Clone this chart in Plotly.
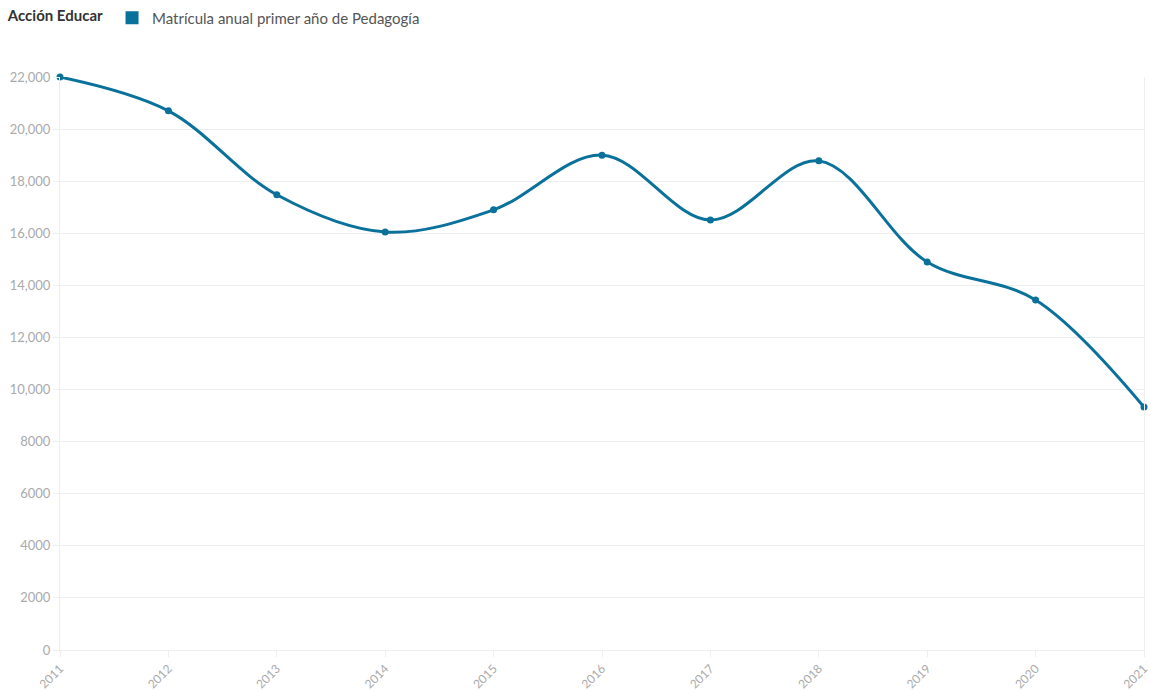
import plotly.graph_objects as go

years = [2011, 2012, 2013, 2014, 2015, 2016, 2017, 2018, 2019, 2020, 2021]
matricula = [22000, 20700, 17480, 16050, 16900, 19000, 16510, 18780, 14900, 13440, 9330]
series_name = "Matrícula anual primer año de Pedagogía"
legend_title = "Acción Educar"
y_ticks = [0, 2000, 4000, 6000, 8000, 10000, 12000, 14000, 16000, 18000, 20000, 22000]
y_labels = ["0", "2000", "4000", "6000", "8000", "10,000", "12,000", "14,000", "16,000", "18,000", "20,000", "22,000"]

color = "#0a719b"
font = "Lato, 'Source Sans Pro', 'Noto Sans', sans-serif"

fig = go.Figure()
fig.add_trace(go.Scatter(
    x=years, y=matricula, mode="lines+markers",
    line=dict(color=color, width=3, shape="spline", smoothing=1.0),
    marker=dict(color=color, size=7),
    cliponaxis=False, showlegend=False, name=series_name,
))
fig.add_trace(go.Scatter(
    x=[None], y=[None], mode="markers",
    marker=dict(color=color, size=13, symbol="square"),
    name=series_name, showlegend=True,
))

fig.update_layout(
    width=1151, height=691,
    margin=dict(l=60, r=7, t=77, b=41, autoexpand=False),
    paper_bgcolor="white", plot_bgcolor="white",
    font=dict(family=font, color="#aaaaaa", size=12),
    showlegend=True,
    legend=dict(
        orientation="h", x=-0.05, xanchor="left", y=1.103, yanchor="middle",
        title=dict(text="<b>" + legend_title + "</b>", font=dict(size=15, color="#333333")),
        font=dict(size=15, color="#555555"),
        itemsizing="trace", itemwidth=30,
    ),
    xaxis=dict(
        tickmode="array", tickvals=years, ticktext=[str(y) for y in years],
        range=[2011, 2021], tickangle=-45, automargin=False,
        ticklabeloverflow="allow",
        showgrid=False, showline=True, linecolor="#eeeeee", linewidth=1,
        ticks="outside", ticklen=6, tickcolor="#eeeeee",
        tickfont=dict(size=12, color="#aaaaaa"), zeroline=False,
    ),
    yaxis=dict(
        tickmode="array", tickvals=y_ticks, ticktext=y_labels,
        range=[0, 22000], showgrid=True, gridcolor="#eeeeee", gridwidth=1,
        showline=True, linecolor="#eeeeee", mirror=True, automargin=False,
        ticks="outside", ticklen=6, tickcolor="#eeeeee",
        tickfont=dict(size=13, color="#aaaaaa"), zeroline=False,
    ),
)

fig.write_html(
    "out.html",
    config={"displayModeBar": False},
    post_script="document.body.style.margin='0';document.body.style.overflow='hidden';",
)
